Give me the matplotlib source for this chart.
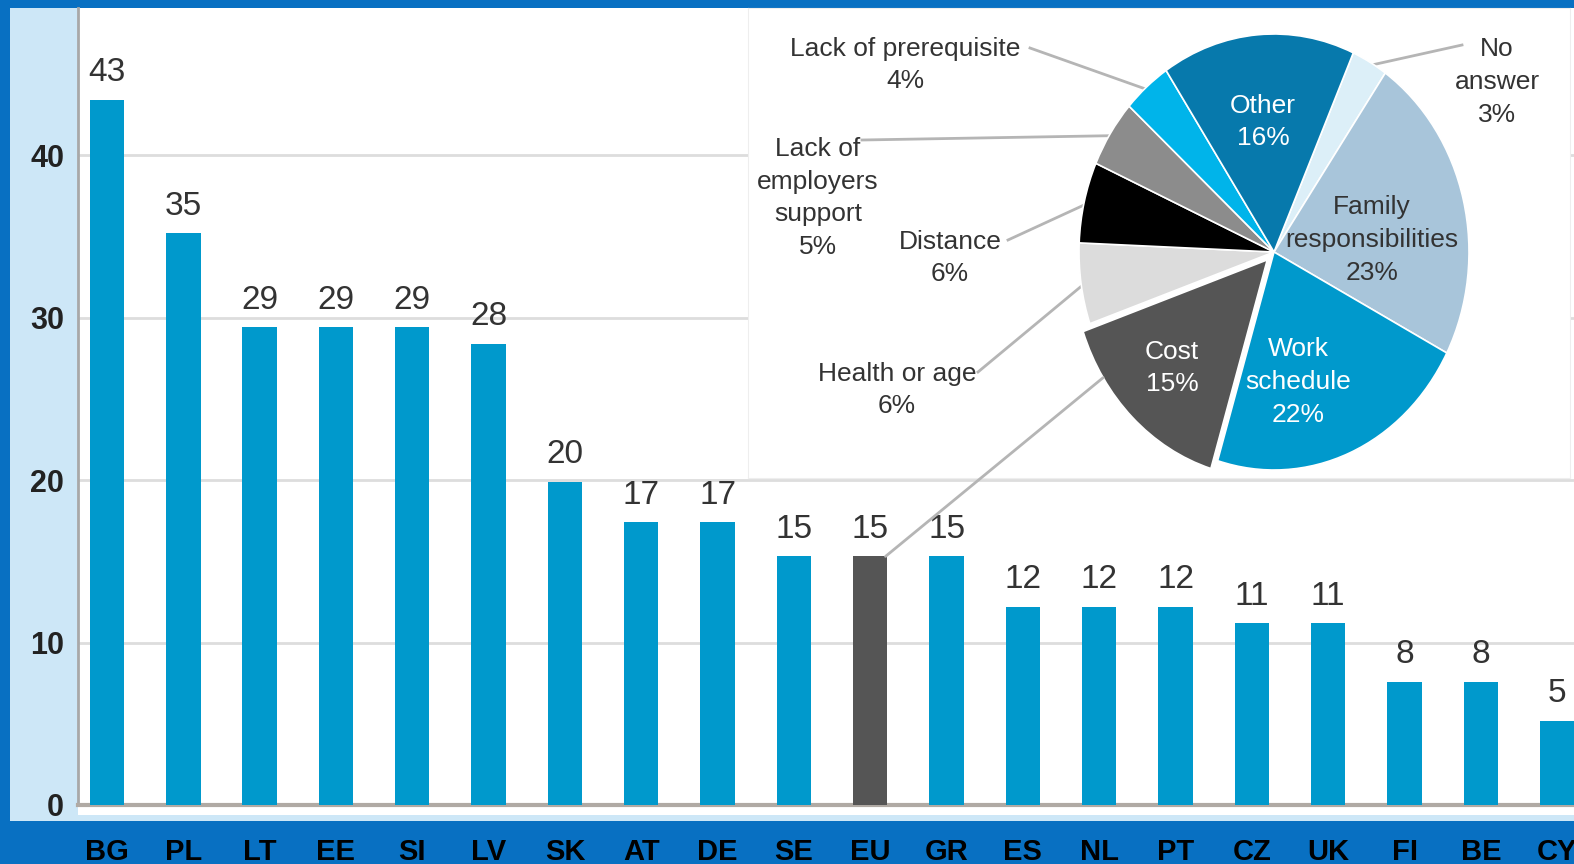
import numpy as np
import matplotlib.pyplot as plt
from matplotlib.patches import Rectangle, ConnectionPatch

plt.rcParams['font.family'] = ['Liberation Sans Narrow', 'Liberation Sans', 'DejaVu Sans']

# datos de las barras
countries = ['BG', 'PL', 'LT', 'EE', 'SI', 'LV', 'SK', 'AT', 'DE', 'SE',
             'EU', 'GR', 'ES', 'NL', 'PT', 'CZ', 'UK', 'FI', 'BE', 'CY']
values = [43.4, 35.2, 29.4, 29.4, 29.4, 28.4, 19.9, 17.4, 17.4, 15.3,
          15.3, 15.3, 12.2, 12.2, 12.2, 11.2, 11.2, 7.6, 7.6, 5.2]
bar_labels = ['43', '35', '29', '29', '29', '28', '20', '17', '17', '15',
              '15', '15', '12', '12', '12', '11', '11', '8', '8', '5']
yticks = [0, 10, 20, 30, 40]

# datos del pastel
reasons = ['No answer', 'Family responsibilities', 'Work schedule', 'Cost',
           'Health or age', 'Distance', 'Lack of employers support',
           'Lack of prerequisite', 'Other']
shares = [3, 23, 22, 15, 6, 6, 5, 4, 16]

W, H = 1574, 864
BLUE = '#0870C2'
BAR = '#0099CC'

def fr(x0, y0, x1, y1):
    # caja en pixeles -> fraccion de figura [l, b, w, h]
    return [x0 / W, 1 - y1 / H, (x1 - x0) / W, (y1 - y0) / H]

fig = plt.figure(figsize=(W / 100, H / 100), dpi=100, facecolor=BLUE)

# fondo blanco y franja azul clara
fig.add_artist(Rectangle((10 / W, 1 - 815 / H), 1, (815 - 8) / H, transform=fig.transFigure,
                         facecolor='white', edgecolor='none', zorder=-2))
fig.add_artist(Rectangle((10 / W, 1 - 815 / H), 68 / W, (815 - 8) / H, transform=fig.transFigure,
                         facecolor='#CDE7F7', edgecolor='none', zorder=-1))
fig.add_artist(Rectangle((10 / W, 1 - 821 / H), 1, 6 / H, transform=fig.transFigure,
                         facecolor='#CDE7F7', edgecolor='none', zorder=-1))

ax = fig.add_axes(fr(78, 8, 1574, 805))
ax.set_facecolor('none')
x = np.arange(len(countries))
colors = ['#555555' if c == 'EU' else BAR for c in countries]
ax.bar(x, values, width=0.45, color=colors, zorder=3)
for i, (v, t) in enumerate(zip(values, bar_labels)):
    ax.text(i, v + 0.7, t, ha='center', va='bottom', fontsize=24, color='#333333', zorder=4)

ax.set_xlim(-0.38, 19.22)
ax.set_ylim(0, 49.05)
ax.set_yticks(yticks)
ax.set_yticklabels([str(t) for t in yticks], fontsize=22, fontweight='bold', color='#222222')
ax.set_xticks(x)
ax.set_xticklabels(countries, fontsize=21, fontweight='bold', color='black',
                   family=['Liberation Sans', 'DejaVu Sans'])
ax.tick_params(axis='y', length=0, pad=10)
ax.tick_params(axis='x', length=0, pad=24)
ax.grid(axis='y', color='#DDDDDD', lw=2, zorder=0)
for s in ['top', 'right']:
    ax.spines[s].set_visible(False)
ax.spines['left'].set_color('#A8A8A8')
ax.spines['left'].set_linewidth(2)
ax.spines['bottom'].set_color('#B0AAA4')
ax.spines['bottom'].set_linewidth(3)

# recuadro blanco del pastel
box = fig.add_axes(fr(748, 8, 1570, 478))
box.set_xticks([])
box.set_yticks([])
box.set_facecolor('white')
for s in box.spines.values():
    s.set_color('#EEEEEE')

# pastel (eliptico como en la imagen)
cx, cy, rx, ry = 1274, 252, 195, 218
L = 1.3
pax = fig.add_axes(fr(cx - rx * L, cy - ry * L, cx + rx * L, cy + ry * L))
pie_colors = ['#DCEFF8', '#A8C5DA', '#0099CC', '#555555', '#DCDCDC',
              '#000000', '#8C8C8C', '#00B4EA', '#0779AC']
explode = [0, 0, 0, 0.05, 0, 0, 0, 0, 0]
wedges, _ = pax.pie(shares, colors=pie_colors, startangle=66, counterclock=False,
                    explode=explode, wedgeprops=dict(edgecolor='white', linewidth=1.2))
pax.set_aspect('auto')
pax.set_xlim(-L, L)
pax.set_ylim(-L, L)
pax.axis('off')

def px2d(px, py):
    return (px - cx) / rx, (cy - py) / ry

def mid(k, r=1.0):
    w = wedges[k]
    a = np.deg2rad((w.theta1 + w.theta2) / 2)
    c = w.center
    return c[0] + r * np.cos(a), c[1] + r * np.sin(a)

fs = 19
inner = [(8, 1263, 122, 'Other\n16%', 'white'),
         (1, 1372, 240, 'Family\nresponsibilities\n23%', '#333333'),
         (2, 1298, 382, 'Work\nschedule\n22%', 'white'),
         (3, 1172, 368, 'Cost\n15%', 'white')]
for k, px, py, t, col in inner:
    pax.text(*px2d(px, py), t, ha='center', va='center', fontsize=fs, color=col,
             linespacing=1.45)

outer = [(7, 905, 65, 'Lack of prerequisite\n4%', (1030, 48)),
         (0, 1497, 82, 'No\nanswer\n3%', (1462, 45)),
         (6, 818, 198, 'Lack of\nemployers\nsupport\n5%', (862, 140)),
         (5, 950, 258, 'Distance\n6%', (1008, 240)),
         (4, 897, 390, 'Health or age\n6%', (978, 372))]
for k, px, py, t, start in outer:
    pax.text(*px2d(px, py), t, ha='center', va='center', fontsize=fs, color='#333333',
             linespacing=1.45, clip_on=False)
    x0, y0 = px2d(*start)
    x1, y1 = mid(k, 0.98)
    pax.plot([x0, x1], [y0, y1], color='#B5B5B5', lw=2, clip_on=False, zorder=0)

# linea desde la barra EU al sector Cost
w = wedges[3]
a = np.deg2rad(w.theta1 + 0.25 * (w.theta2 - w.theta1))
pt = (w.center[0] + np.cos(a), w.center[1] + np.sin(a))
eu = countries.index('EU')
con = ConnectionPatch(xyA=(eu + 0.2, values[eu]), coordsA=ax.transData,
                      xyB=pt, coordsB=pax.transData, color='#B5B5B5', lw=2, zorder=5)
fig.add_artist(con)

plt.savefig('out.png', dpi=100, facecolor=BLUE)
